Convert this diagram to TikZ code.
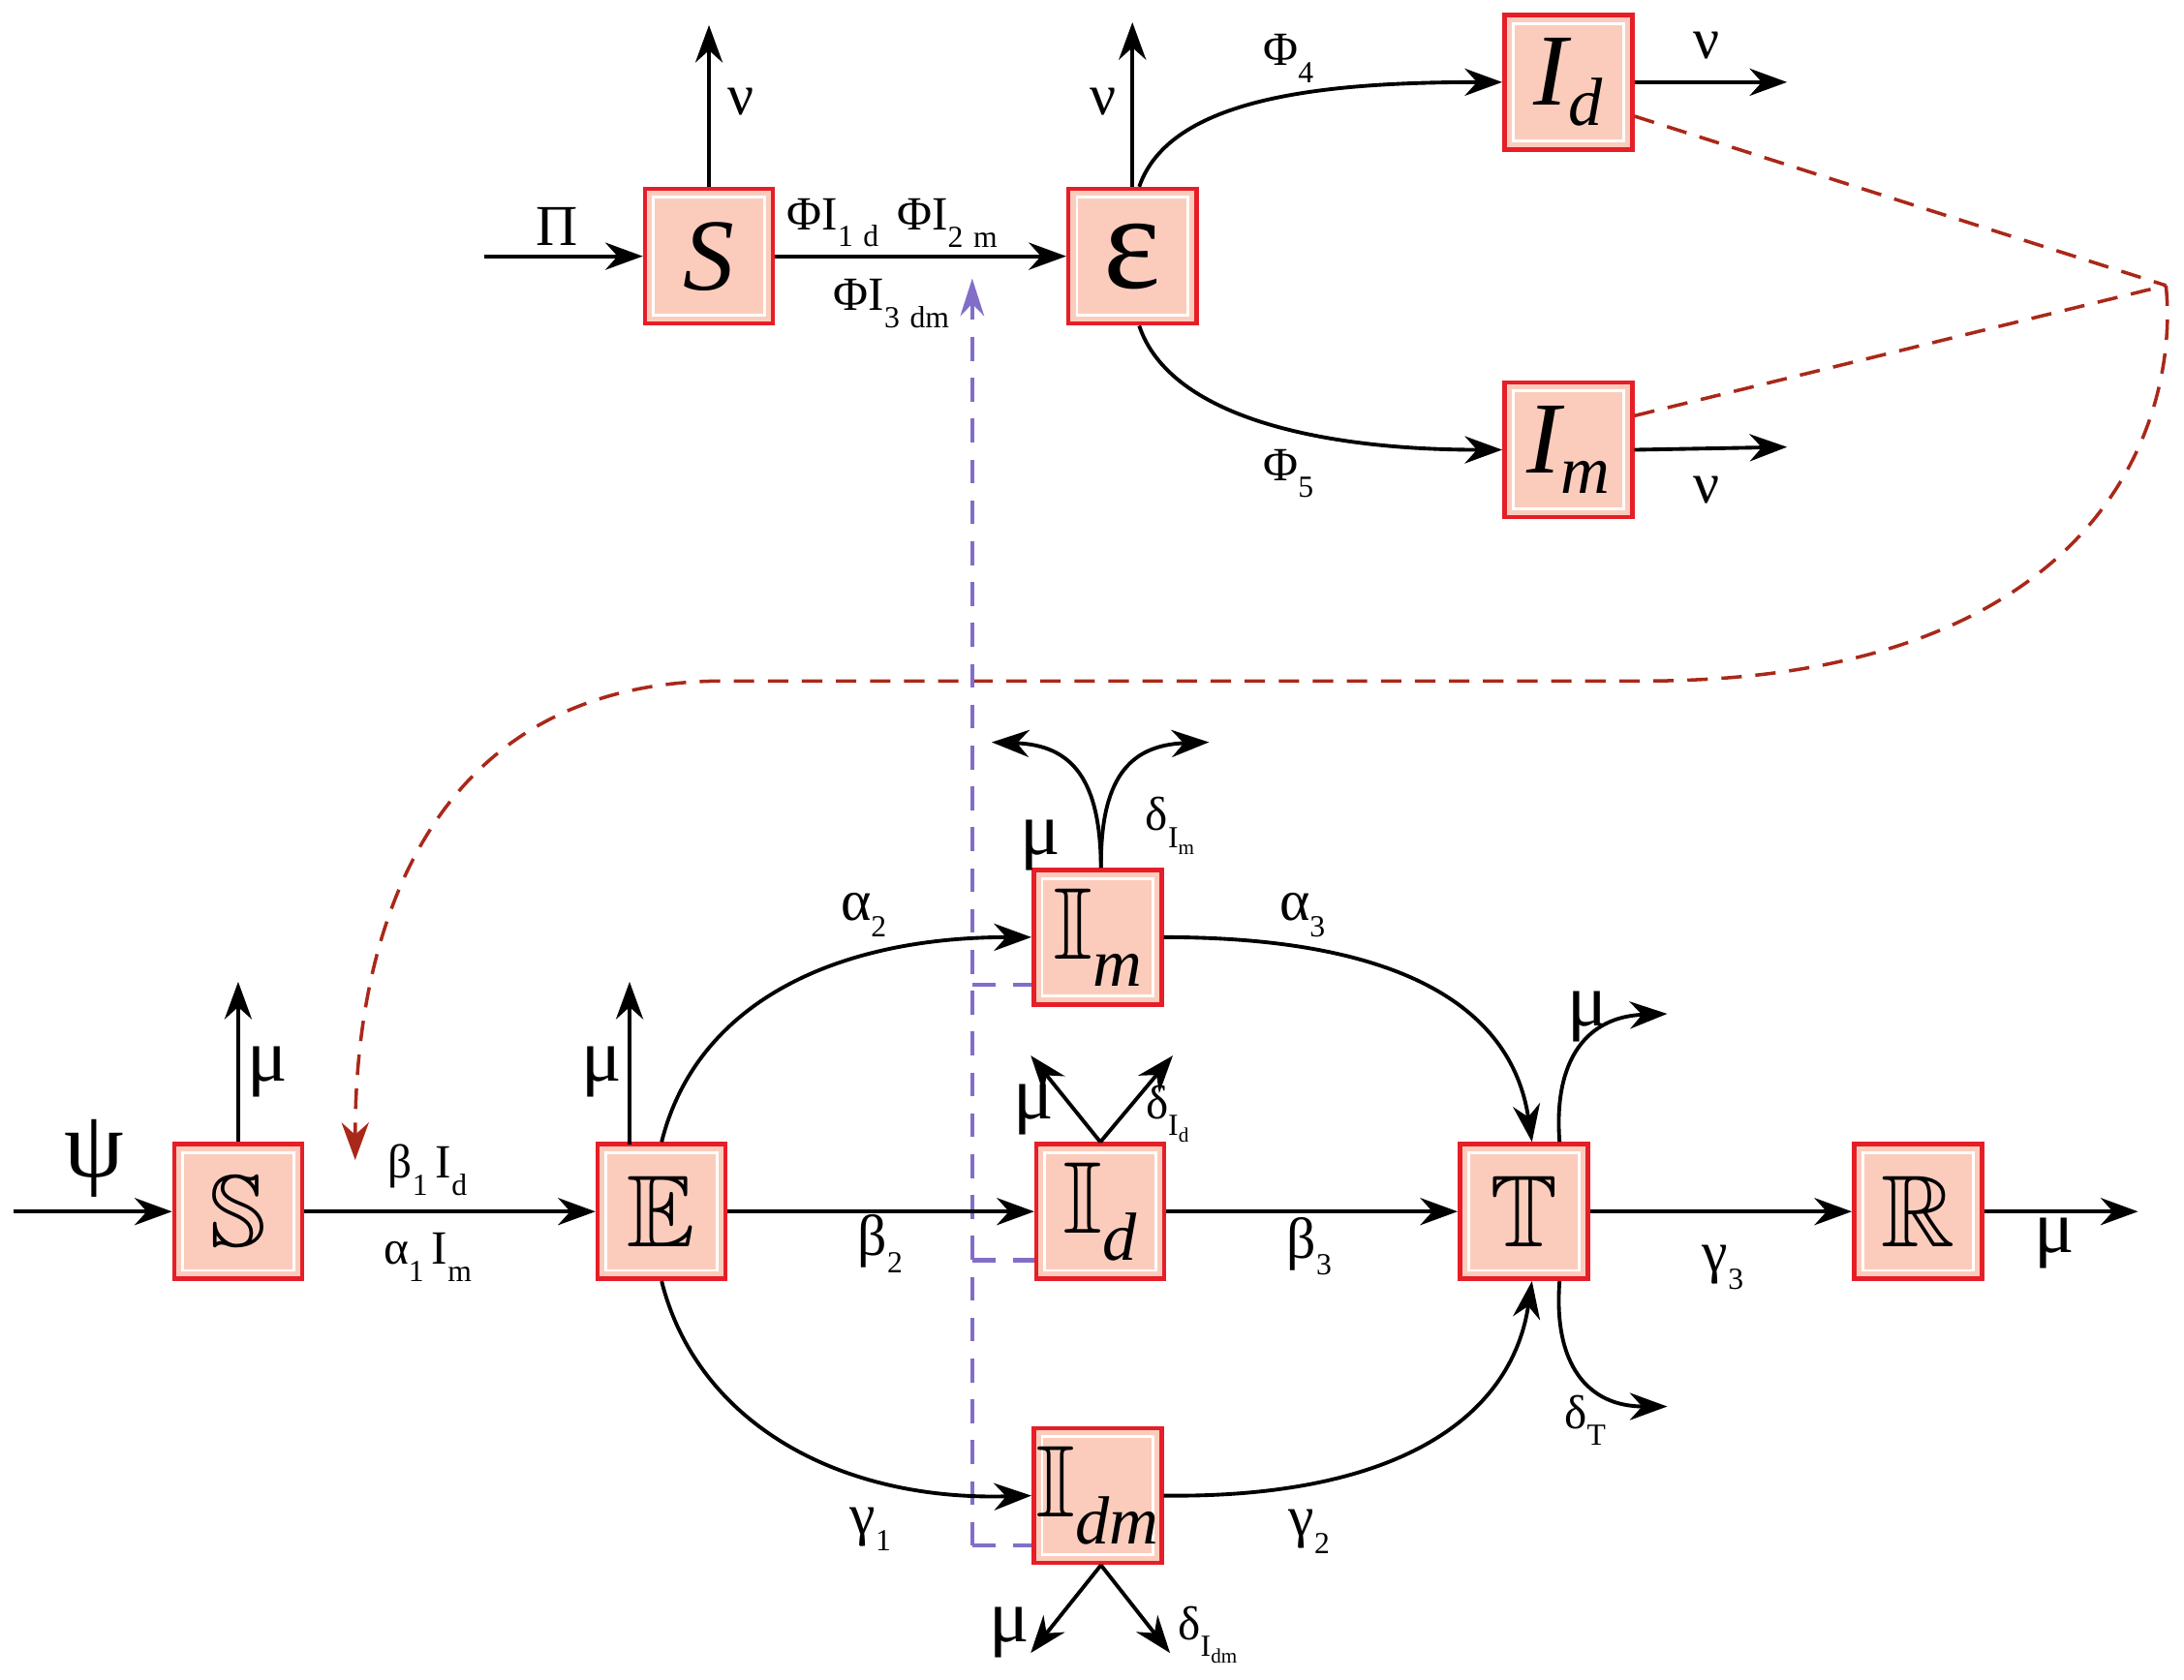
\documentclass[tikz,border=0pt]{standalone}
\usepackage{amssymb}
\usepackage{fontspec}
\setmainfont{Liberation Serif}
\usetikzlibrary{arrows.meta}
\definecolor{boxfill}{RGB}{251,204,188}
\definecolor{boxred}{RGB}{230,30,40}
\definecolor{dred}{RGB}{170,40,25}
\definecolor{purp}{RGB}{130,110,200}
\newcommand{\lowsub}[1]{\raisebox{-5pt}{\fontsize{9}{9}\selectfont #1}}
\begin{document}
\begin{tikzpicture}[x=0.01438cm,y=-0.01438cm,
 box/.style={draw=boxred,line width=1.3pt,fill=boxfill,minimum width=1.32cm,minimum height=1.39cm,inner sep=0pt,font=\fontsize{30}{30}\selectfont,
  path picture={\draw[white,line width=0.8pt]([shift={(2.5pt,2.5pt)}]path picture bounding box.south west) rectangle ([shift={(-2.5pt,-2.5pt)}]path picture bounding box.north east);}},
 ar/.style={line width=1.1pt,-{Stealth[length=11pt,width=8pt]}},
 lb/.style={font=\fontsize{17}{17}\selectfont,inner sep=0pt},
 sl/.style={font=\fontsize{14}{14}\selectfont,inner sep=0pt},
 rd/.style={dred,dashed,line width=1pt,dash pattern=on 6pt off 4pt},
 pd/.style={purp,line width=1.2pt,dash pattern=on 7pt off 5pt}]
\useasboundingbox (0,0) rectangle (1568,1206);
% top
\node[box] (tS) at (509,184) {\textit{S}};
\node[box] (tE) at (813,184) {\fontsize{40}{40}\selectfont ε};
\node[box] (tId) at (1126,59) {\textit{I}\kern-1pt\raisebox{-6pt}{\fontsize{20}{20}\selectfont\textit{d}}};
\node[box] (tIm) at (1126,323) {\textit{I}\kern-1pt\raisebox{-6pt}{\fontsize{20}{20}\selectfont\textit{m}}};
\coordinate (pi) at (348,184);
\draw[ar] (pi) -- (tS.west);
\node[lb] at (400,163) {Π};
\coordinate (tSu) at (509,18);
\draw[ar] (tS.north) -- (tSu);
\node[lb] at (532,73) {ν};
\draw[ar] (tS.east) -- (tE.west);
\node[sl] at (598,160) {ΦI\lowsub{1\,\,d}};
\node[sl] at (680,160) {ΦI\lowsub{2\,\,m}};
\node[sl] at (640,218) {ΦI\lowsub{3\,\,dm}};
\coordinate (tEu) at (813,16);
\draw[ar] (tE.north) -- (tEu);
\node[lb] at (792,73) {ν};
\draw[ar] ([xshift=2pt]tE.north) .. controls (840,70) and (950,59) .. (tId.west);
\node[sl] at (925,42) {Φ\lowsub{4}};
\draw[ar] ([xshift=2pt]tE.south) .. controls (840,300) and (950,323) .. (tIm.west);
\node[sl] at (925,340) {Φ\lowsub{5}};
\coordinate (idr) at (1283,59);
\coordinate (imr) at (1283,321);
\draw[ar] (tId.east) -- (idr);
\draw[ar] (tIm.east) -- (imr);
\node[lb] at (1225,33) {ν};
\node[lb] at (1225,352) {ν};
% red dashed feedback
\coordinate (rp) at (1555,205);
\draw[rd] ([yshift=-10pt]tId.east) -- (rp);
\draw[rd] ([yshift=10pt]tIm.east) -- (rp);
% bottom boxes
\node[box] (S) at (171,870) {$\mathbb{S}$};
\node[box] (E) at (475,870) {$\mathbb{E}$};
\node[box] (Im) at (788,673) {$\mathbb{I}$\raisebox{-8pt}{\fontsize{20}{20}\selectfont\textit{m}}};
\node[box] (Id) at (790,870) {$\mathbb{I}$\raisebox{-8pt}{\fontsize{20}{20}\selectfont\textit{d}}};
\node[box] (Idm) at (788,1074) {$\mathbb{I}$\raisebox{-8pt}{\fontsize{20}{20}\selectfont\textit{dm}}};
\node[box] (T) at (1094,870) {$\mathbb{T}$};
\node[box] (R) at (1377,870) {$\mathbb{R}$};
\coordinate (sarr) at (255,833);
\draw[rd,-{Stealth[length=11pt,width=8pt]}] (rp) .. controls (1565,300) and (1510,489) .. (1180,489) -- (520,489) .. controls (320,489) and (255,650) .. (sarr);
% purple dashed
\coordinate (pt) at (698,200);
\coordinate (pb) at (698,1110);
\coordinate (p1) at (698,707);
\coordinate (p2) at (698,905);
\draw[pd,-{Stealth[length=11pt,width=7pt]}] (pb) -- (pt);
\draw[pd] (p1) -- (p1 -| Im.west);
\draw[pd] (p2) -- (p2 -| Id.west);
\draw[pd] (pb) -- (pb -| Idm.west);
% bottom arrows
\coordinate (psi) at (10,870);
\draw[ar] (psi) -- (S.west);
\node[font=\fontsize{28}{28}\selectfont] at (68,832) {ψ};
\coordinate (su) at (171,705);
\draw[ar] (S.north) -- (su);
\node[lb,font=\fontsize{22}{22}\selectfont] at (192,770) {μ};
\draw[ar] (S.east) -- (E.west);
\node[sl] at (307,840) {β\lowsub{1}\,I\lowsub{d}};
\node[sl] at (307,903) {α\lowsub{1}\,I\lowsub{m}};
\coordinate (eu) at (452,705);
\draw[ar] (452,822) -- (eu);
\node[lb,font=\fontsize{22}{22}\selectfont] at (432,770) {μ};
\draw[ar] (E.east) -- (Id.west);
\node[lb] at (632,893) {β\lowsub{2}};
\draw[ar] (E.north) .. controls (500,720) and (600,673) .. (Im.west);
\node[lb] at (620,657) {α\lowsub{2}};
\draw[ar] (E.south) .. controls (500,1020) and (600,1078) .. (Idm.west);
\node[lb] at (625,1098) {γ\lowsub{1}};
\draw[ar] (Im.east) .. controls (1000,673) and (1085,720) .. ([xshift=2.4pt]T.north);
\node[lb] at (935,657) {α\lowsub{3}};
\draw[ar] (Id.east) -- (T.west);
\node[lb] at (940,895) {β\lowsub{3}};
\draw[ar] (Idm.east) .. controls (1000,1076) and (1085,1020) .. ([xshift=2.4pt]T.south);
\node[lb] at (940,1100) {γ\lowsub{2}};
\draw[ar] (T.east) -- (R.west);
\node[lb] at (1237,910) {γ\lowsub{3}};
\coordinate (ro) at (1535,870);
\draw[ar] (R.east) -- (ro);
\node[lb,font=\fontsize{22}{22}\selectfont] at (1475,893) {μ};
\coordinate (tu) at (1197,728);
\coordinate (td) at (1197,1010);
\draw[ar] ([xshift=10.5pt]T.north) .. controls (1115,760) and (1140,730) .. (tu);
\draw[ar] ([xshift=10.5pt]T.south) .. controls (1115,980) and (1140,1010) .. (td);
\node[lb,font=\fontsize{22}{22}\selectfont] at (1140,730) {μ};
\node[sl] at (1138,1020) {δ\lowsub{T}};
\coordinate (iml) at (712,533);
\coordinate (imr2) at (868,533);
\draw[ar] ([xshift=1pt]Im.north) .. controls (790,560) and (770,535) .. (iml);
\draw[ar] ([xshift=1pt]Im.north) .. controls (790,560) and (810,535) .. (imr2);
\node[lb,font=\fontsize{22}{22}\selectfont] at (747,607) {μ};
\node[sl] at (840,593) {δ\lowsub{I\raisebox{-2pt}{\fontsize{6}{6}\selectfont m}}};
\coordinate (idl) at (740,758);
\coordinate (idr2) at (842,758);
\draw[ar] (Id.north) -- (idl);
\draw[ar] (Id.north) -- (idr2);
\node[lb,font=\fontsize{22}{22}\selectfont] at (742,797) {μ};
\node[sl] at (838,800) {δ\lowsub{I\raisebox{-2pt}{\fontsize{6}{6}\selectfont d}}};
\coordinate (dl) at (740,1187);
\coordinate (dr) at (840,1187);
\draw[ar] ([xshift=1pt]Idm.south) -- (dl);
\draw[ar] ([xshift=1pt]Idm.south) -- (dr);
\node[lb,font=\fontsize{22}{22}\selectfont] at (725,1172) {μ};
\node[sl] at (867,1174) {δ\lowsub{I\raisebox{-2pt}{\fontsize{6}{6}\selectfont dm}}};
\end{tikzpicture}
\end{document}
